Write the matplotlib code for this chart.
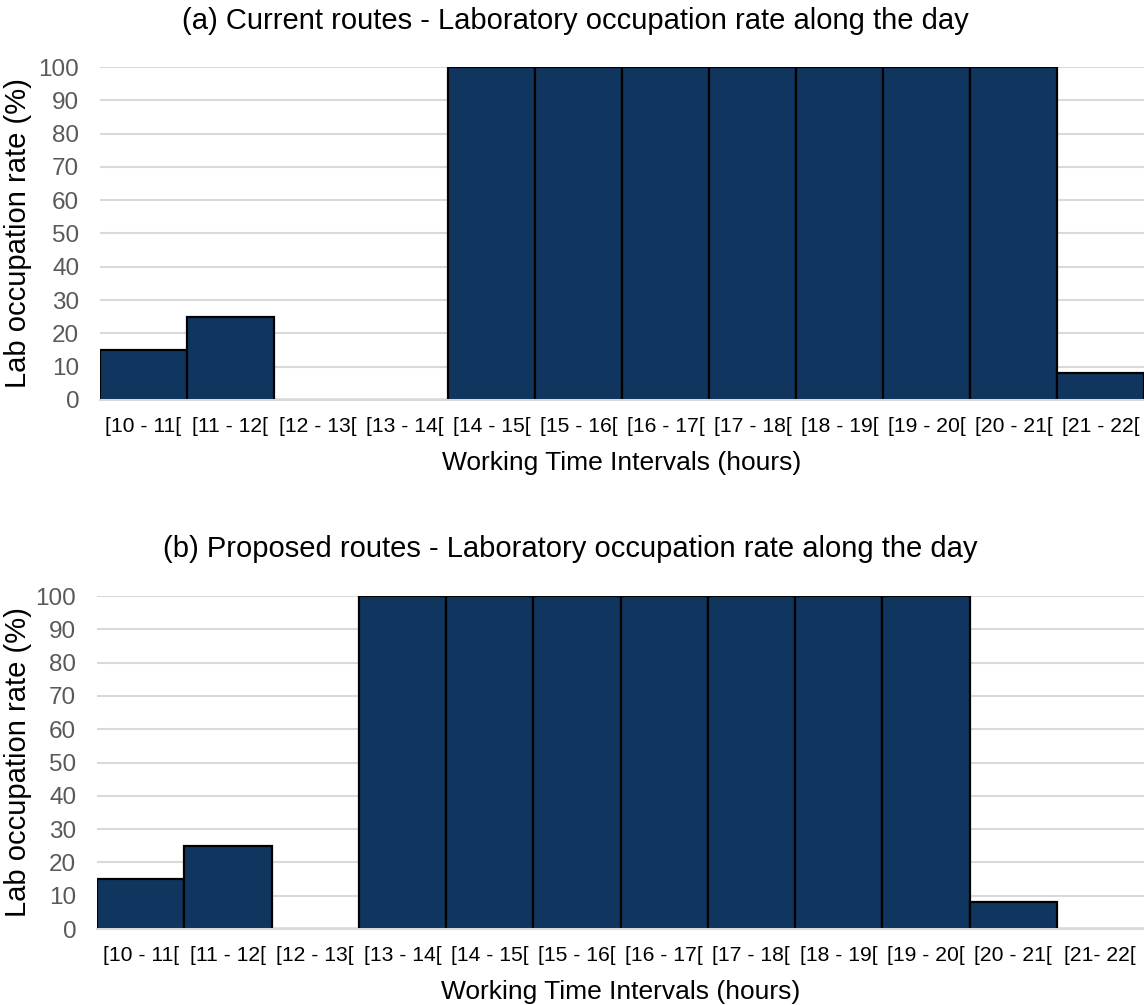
import matplotlib
matplotlib.use("Agg")
import matplotlib.pyplot as plt
import numpy as np

plt.rcParams['font.family'] = ['Liberation Sans', 'DejaVu Sans']

# Hourly intervals and lab occupation rates (%)
intervals_current = ["[10 - 11[", "[11 - 12[", "[12 - 13[", "[13 - 14[", "[14 - 15[", "[15 - 16[",
                     "[16 - 17[", "[17 - 18[", "[18 - 19[", "[19 - 20[", "[20 - 21[", "[21 - 22["]
occupation_current = [15, 25, 0, 0, 100, 100, 100, 100, 100, 100, 100, 8]

intervals_proposed = ["[10 - 11[", "[11 - 12[", "[12 - 13[", "[13 - 14[", "[14 - 15[", "[15 - 16[",
                      "[16 - 17[", "[17 - 18[", "[18 - 19[", "[19 - 20[", "[20 - 21[", "[21- 22["]
occupation_proposed = [15, 25, 0, 100, 100, 100, 100, 100, 100, 100, 8, 0]

y_ticks = list(range(0, 101, 10))

titles = ["(a) Current routes - Laboratory occupation rate along the day",
          "(b) Proposed routes - Laboratory occupation rate along the day"]

BAR = '#10365f'
GRID = '#d9d9d9'

fig = plt.figure(figsize=(11.44, 10.05), dpi=100)
W, H = 1144, 1005


def draw(ax, labels, values):
    x = np.arange(len(labels))
    ax.bar(x, values, width=1.0, color=BAR, edgecolor='black', linewidth=1.6, zorder=3)
    ax.set_xlim(-0.5, len(labels) - 0.5)
    ax.set_ylim(0, 100)
    ax.set_yticks(y_ticks)
    ax.yaxis.grid(True, color=GRID, linewidth=1.5, zorder=0)
    ax.set_axisbelow(True)
    for s in ['top', 'right', 'left']:
        ax.spines[s].set_visible(False)
    ax.spines['bottom'].set_color(GRID)
    ax.spines['bottom'].set_linewidth(1.5)
    ax.spines['bottom'].set_zorder(4)
    ax.set_xticks(x)
    ax.set_xticklabels(labels, fontsize=15.2, color='black')
    ax.tick_params(axis='both', length=0)
    ax.tick_params(axis='x', pad=12)
    ax.tick_params(axis='y', labelsize=17.5, labelcolor='#595959', pad=15)
    ax.set_xlabel("Working Time Intervals (hours)", fontsize=19, labelpad=11)


# (a) top panel
ax1 = fig.add_axes([100 / W, 1 - 400 / H, (1144 - 100) / W, 333 / H])
draw(ax1, intervals_current, occupation_current)
fig.text(575 / W, 1 - 21 / H, titles[0], ha='center', va='center', fontsize=21)
fig.text(18 / W, 1 - 233 / H, "Lab occupation rate (%)", rotation=90,
         ha='center', va='center', fontsize=21)

# (b) bottom panel
ax2 = fig.add_axes([97 / W, 1 - 929 / H, (1144 - 97) / W, 333 / H])
draw(ax2, intervals_proposed, occupation_proposed)
fig.text(570 / W, 1 - 549 / H, titles[1], ha='center', va='center', fontsize=21)
fig.text(18 / W, 1 - 762 / H, "Lab occupation rate (%)", rotation=90,
         ha='center', va='center', fontsize=21)

fig.savefig("out.png", dpi=100)
